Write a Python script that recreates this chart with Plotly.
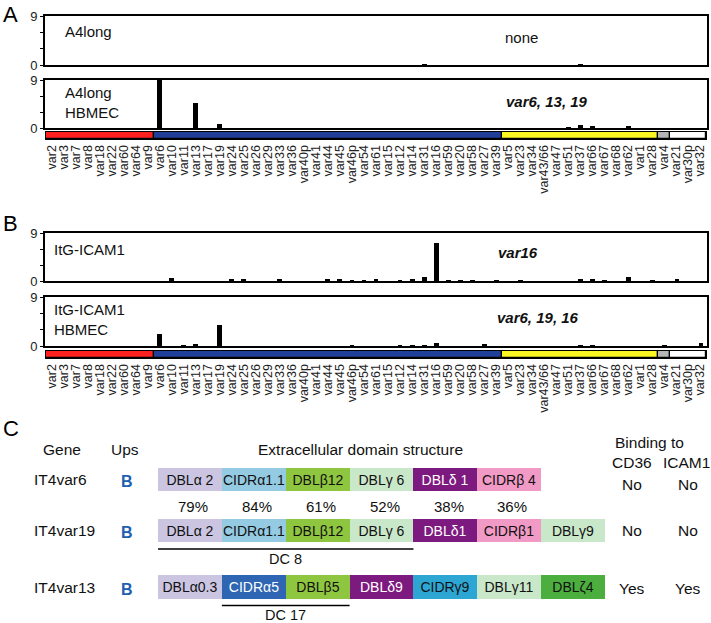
import plotly.graph_objects as go

# ---------------- data ----------------
group_names = ["red", "blue", "yellow", "grey", "white"]
group_colors = ["#ff2020", "#213f98", "#fbf723", "#b5b5b5", "#ffffff"]
cat_red = ["var2", "var3", "var7", "var8", "var18", "var22", "var60", "var64", "var9"]
cat_blue = ["var6", "var10", "var11", "var13", "var17", "var19", "var24", "var25", "var26",
            "var29", "var33", "var36", "var40p", "var41", "var44", "var45", "var46p", "var54",
            "var61", "var15", "var12", "var14", "var31", "var16", "var59", "var20", "var58",
            "var27", "var39"]
cat_yellow = ["var5", "var23", "var34", "var43/66", "var47", "var51", "var37", "var66", "var67",
              "var68", "var62", "var1", "var28"]
cat_grey = ["var4"]
cat_white = ["var21", "var30p", "var32"]
groups = [cat_red, cat_blue, cat_yellow, cat_grey, cat_white]
categories = [c for g in groups for c in g]

a4long = {"var31": 0.15, "var37": 0.05}
a4long_hbmec = {"var6": 9.0, "var13": 4.7, "var19": 0.7, "var51": 0.15, "var37": 0.5,
                "var66": 0.2, "var62": 0.3}
itg_icam1 = {"var10": 0.5, "var24": 0.3, "var25": 0.3, "var33": 0.2, "var44": 0.2, "var45": 0.25,
             "var46p": 0.15, "var54": 0.15, "var61": 0.35, "var12": 0.15, "var14": 0.2,
             "var31": 0.8, "var16": 7.2, "var59": 0.1, "var20": 0.1, "var58": 0.1, "var39": 0.1,
             "var23": 0.15, "var37": 0.2, "var66": 0.25, "var67": 0.15, "var62": 0.7,
             "var28": 0.1, "var21": 0.2}
itg_icam1_hbmec = {"var6": 2.2, "var11": 0.15, "var13": 0.3, "var19": 3.9, "var46p": 0.15,
                   "var12": 0.1, "var14": 0.1, "var31": 0.1, "var16": 0.6, "var27": 0.3,
                   "var37": 0.1, "var66": 0.1, "var4": 0.1, "var32": 0.5}

panel_titles = [["A4long"], ["A4long", "HBMEC"], ["ItG-ICAM1"], ["ItG-ICAM1", "HBMEC"]]
panel_hits = ["none", "<b><i>var6, 13, 19</i></b>", "<b><i>var16</i></b>", "<b><i>var6, 19, 16</i></b>"]

genes = ["IT4var6", "IT4var19", "IT4var13"]
ups = ["B", "B", "B"]
domains = [
    ["DBLα 2", "CIDRα1.1", "DBLβ12", "DBLγ 6", "DBLδ 1", "CIDRβ 4"],
    ["DBLα 2", "CIDRα1.1", "DBLβ12", "DBLγ 6", "DBLδ1", "CIDRβ1", "DBLγ9"],
    ["DBLα0.3", "CIDRα5", "DBLβ5", "DBLδ9", "CIDRγ9", "DBLγ11", "DBLζ4"],
]
domain_colors = [
    ["#cbc5e2", "#95cbe2", "#8fc640", "#c9e7c9", "#7d1a7f", "#f29ac6"],
    ["#cbc5e2", "#95cbe2", "#8fc640", "#c9e7c9", "#7d1a7f", "#f29ac6", "#c9e7c9"],
    ["#cbc5e2", "#2e66b3", "#8fc640", "#7d1a7f", "#2ea6d4", "#c9e7c9", "#4cae3e"],
]
identity_pct = ["79%", "84%", "61%", "52%", "38%", "36%"]
binding_cd36 = ["No", "No", "Yes"]
binding_icam1 = ["No", "No", "Yes"]
dc_labels = ["DC 8", "DC 17"]
dc_rows = [1, 2]
dc_spans = [(0, 4), (1, 3)]

# ---------------- layout helpers ----------------
W, H = 711, 623
FONT = "Arial, Liberation Sans, sans-serif"


def px(x):
    return x / W


def py(y):
    return 1 - y / H


X0, X1 = 46, 706
n = len(categories)
idx = list(range(n))

fig = go.Figure()

panels = [  # (axis suffix, top px, bottom px, data)
    ("", 16, 65, a4long),
    ("2", 80, 128, a4long_hbmec),
    ("4", 233, 281, itg_icam1),
    ("5", 297, 346, itg_icam1_hbmec),
]
strips = [("3", 132, 139), ("6", 351, 358)]

layout = dict(
    width=W, height=H, autosize=False, margin=dict(l=0, r=0, t=0, b=0, pad=0),
    paper_bgcolor="white", plot_bgcolor="white", showlegend=False,
    font=dict(family=FONT, color="black", size=13), bargap=0,
)
annotations = []
shapes = []

for k, (s, top, bot, data) in enumerate(panels):
    vals = [data.get(c, 0) for c in categories]
    fig.add_trace(go.Bar(x=idx, y=vals, width=0.4, marker=dict(color="black", line=dict(width=0)),
                         xaxis="x" + s, yaxis="y" + s, hoverinfo="skip"))
    layout["xaxis" + s] = dict(domain=[px(X0 - 1), px(X1 + 1)], range=[-0.5, n - 0.5],
                               showticklabels=False, ticks="", showgrid=False, zeroline=False,
                               showline=True, mirror=True, linecolor="black", linewidth=1.6,
                               anchor="y" + s, automargin=False)
    layout["yaxis" + s] = dict(domain=[py(bot), py(top)], range=[0, 9], tickvals=[0, 3, 6, 9],
                               ticktext=["0", "", "", "9"], ticks="outside", ticklen=3,
                               tickwidth=1, tickcolor="black", showgrid=False, zeroline=False,
                               showline=True, mirror=True, linecolor="black", linewidth=1.6,
                               tickfont=dict(size=13, color="#222"), anchor="x" + s,
                               automargin=False)
    for j, t in enumerate(panel_titles[k]):
        yy = top + 16 + j * 20 if len(panel_titles[k]) == 1 else top + 12 + j * 20
        annotations.append(dict(text=t, x=px(X0 + 6 if k >= 2 else X0 + 17), y=py(yy),
                                xref="paper", yref="paper", xanchor="left", yanchor="middle",
                                showarrow=False, font=dict(size=15, color="#111")))
    hit_x = [521, 547, 518, 538][k]
    hit_y = [38, 101, 252, 317][k]
    annotations.append(dict(text=panel_hits[k], x=px(hit_x), y=py(hit_y), xref="paper",
                            yref="paper", xanchor="center", yanchor="middle", showarrow=False,
                            font=dict(size=15, color="#111")))

# colour strips from group sizes
sizes = [len(g) for g in groups]
starts = [sum(sizes[:i]) for i in range(len(sizes))]
centers = [st + sz / 2 - 0.5 for st, sz in zip(starts, sizes)]
for s, top, bot in strips:
    fig.add_trace(go.Bar(x=centers, y=[1] * len(sizes), width=sizes,
                         marker=dict(color=group_colors, line=dict(color="black", width=1.2)),
                         xaxis="x" + s, yaxis="y" + s, hoverinfo="skip"))
    layout["xaxis" + s] = dict(domain=[px(X0), px(X1)], range=[-0.5, n - 0.5], tickvals=idx,
                               ticktext=categories, tickangle=-90, ticks="",
                               tickfont=dict(size=12.5, color="#222"), showgrid=False,
                               zeroline=False, showline=True, mirror=True, linecolor="black",
                               linewidth=1.2, anchor="y" + s, automargin=False)
    layout["yaxis" + s] = dict(domain=[py(bot), py(top)], range=[0, 1], showticklabels=False,
                               ticks="", showgrid=False, zeroline=False, showline=True,
                               mirror=True, linecolor="black", linewidth=1.2, anchor="x" + s,
                               automargin=False)

# ---------------- panel C ----------------
UNIT = 63.86
C0 = 158
ROW_POS = [0, 1, 2.108]
ROW_PX = 51.0
ROW0_PX = 479.5


def ux(p):
    return (p - C0) / UNIT


def uy(p):
    return (p - ROW0_PX) / ROW_PX


bx, bb, by, bt, bc, btc = [], [], [], [], [], []
for r, (doms, cols) in enumerate(zip(domains, domain_colors)):
    for i, (d, c) in enumerate(zip(doms, cols)):
        bx.append(1)
        bb.append(i)
        by.append(ROW_POS[r])
        bt.append(d)
        bc.append(c)
        btc.append("white" if c in ("#7d1a7f", "#2e66b3") else "#111")
fig.add_trace(go.Bar(x=bx, base=bb, y=by, orientation="h", width=0.47, text=bt,
                     textposition="inside", insidetextanchor="middle", constraintext="none",
                     textfont=dict(size=14, color=btc, family=FONT),
                     marker=dict(color=bc, line=dict(width=0)), xaxis="x7", yaxis="y7",
                     hoverinfo="skip"))
layout["xaxis7"] = dict(domain=[0, 1], range=[ux(0), ux(W)], visible=False, anchor="y7")
layout["yaxis7"] = dict(domain=[0, py(420)], range=[uy(H), uy(420)], visible=False, anchor="x7")


def cann(text, x, y, size=15.5, anchor="center", color="#111"):
    annotations.append(dict(text=text, x=x, y=y, xref="x7", yref="y7", xanchor=anchor,
                            yanchor="middle", showarrow=False,
                            font=dict(size=size, color=color)))


cann("Gene", ux(62), uy(449))
cann("Ups", ux(125), uy(449))
cann("Extracellular domain structure", ux(360), uy(449))
cann("Binding to", ux(649), uy(442))
cann("CD36", ux(632), uy(462))
cann("ICAM1", ux(686), uy(462))
bind_offsets = [uy(484) - uy(479.5), 0, 0.02]
for r in range(3):
    ry = ROW_POS[r] + (0.05 if r == 2 else 0.03)
    cann(genes[r], ux(32), ROW_POS[r], anchor="left")
    cann("<b>" + ups[r] + "</b>", ux(127), ry, size=16, color="#1f5fae")
    cann(binding_cd36[r], ux(632), ROW_POS[r] + bind_offsets[r])
    cann(binding_icam1[r], ux(688), ROW_POS[r] + bind_offsets[r])
for i, p in enumerate(identity_pct):
    cann(p, i + 0.55, uy(506), size=15)
for lab, r, (a, b) in zip(dc_labels, dc_rows, dc_spans):
    yline = ROW_POS[r] + 0.365
    shapes.append(dict(type="line", xref="x7", yref="y7", x0=a, x1=b, y0=yline, y1=yline,
                       line=dict(color="black", width=1.5)))
    cann(lab, 2.0, yline + 0.19, size=14.5)

# panel letters
for L, yy in [("A", 14), ("B", 223), ("C", 428)]:
    annotations.append(dict(text=L, x=px(1), y=py(yy), xref="paper", yref="paper",
                            xanchor="left", yanchor="middle", showarrow=False,
                            font=dict(size=22, color="black")))

layout["annotations"] = annotations
layout["shapes"] = shapes
fig.update_layout(**layout)
fig.write_html(
    "out.html",
    config={"displayModeBar": False},
    post_script="document.body.style.margin='0';document.body.style.padding='0';"
                "document.body.style.overflow='hidden';",
)
